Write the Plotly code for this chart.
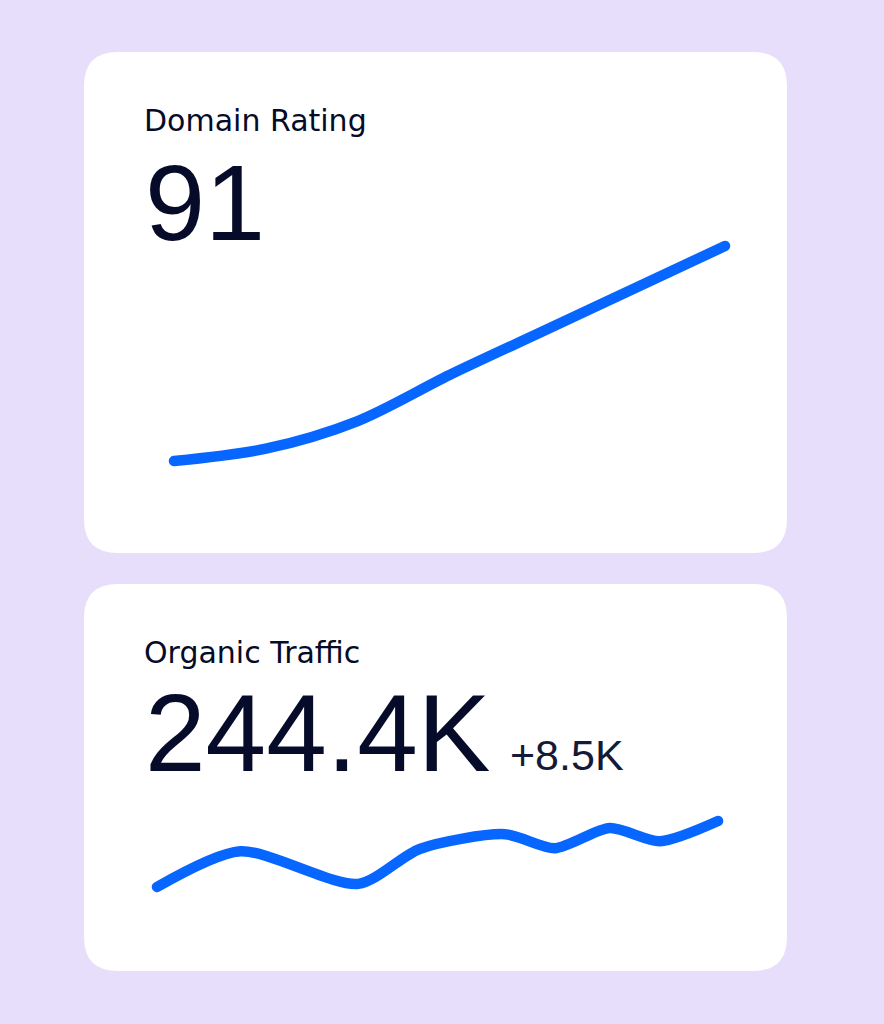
import plotly.graph_objects as go

# ---- data ----
dr_x = [0, 1, 2, 3, 4, 5, 6]
dr_values = [84.0, 84.4, 85.3, 86.8, 88.2, 89.6, 91.0]

ot_x = [0, 12.6, 30.5, 39.8, 52.7, 60.3, 68.6, 76.2, 85]
ot_values = [235.9, 240.5, 236.3, 240.8, 242.7, 240.9, 243.5, 241.8, 244.4]

dr_title = "Domain Rating"
dr_big = "91"
ot_title = "Organic Traffic"
ot_big = "244.4K"
ot_delta = "+8.5K"

W, H = 884, 1024
BG = "#E6DEFA"
BLUE = "#0766FF"
INK = "#050B28"
FONT = "Liberation Sans, Arial, sans-serif"
LABEL_FONT = "DejaVu Sans, sans-serif"
PAD = 12  # px of room around each sparkline so the round caps are not clipped


def px(x):
    return x / W


def py(y):
    return 1 - y / H


def padded_x(vals, p0, p1):
    lo, hi = min(vals), max(vals)
    u = (hi - lo) / (p1 - p0)
    return dict(domain=[px(p0 - PAD), px(p1 + PAD)], range=[lo - PAD * u, hi + PAD * u])


def padded_y(vals, p_low, p_high):
    lo, hi = min(vals), max(vals)
    u = (hi - lo) / (p_low - p_high)
    return dict(domain=[py(p_low + PAD), py(p_high - PAD)], range=[lo - PAD * u, hi + PAD * u])


def rounded_rect(x0, y0, x1, y1, r):
    pts = [
        f"M {px(x0 + r)},{py(y0)}",
        f"L {px(x1 - r)},{py(y0)}",
        f"Q {px(x1)},{py(y0)} {px(x1)},{py(y0 + r)}",
        f"L {px(x1)},{py(y1 - r)}",
        f"Q {px(x1)},{py(y1)} {px(x1 - r)},{py(y1)}",
        f"L {px(x0 + r)},{py(y1)}",
        f"Q {px(x0)},{py(y1)} {px(x0)},{py(y1 - r)}",
        f"L {px(x0)},{py(y0 + r)}",
        f"Q {px(x0)},{py(y0)} {px(x0 + r)},{py(y0)}",
        "Z",
    ]
    return " ".join(pts)


fig = go.Figure()

line_w = 10.5
for xs, ys, xa, ya, sm in [(dr_x, dr_values, "x", "y", 0.9), (ot_x, ot_values, "x2", "y2", 0.75)]:
    fig.add_trace(go.Scatter(
        x=xs, y=ys, mode="lines", xaxis=xa, yaxis=ya,
        line=dict(color=BLUE, width=line_w, shape="spline", smoothing=sm),
        hoverinfo="skip", showlegend=False,
    ))

axis_common = dict(visible=False, showgrid=False, zeroline=False, fixedrange=True)

fig.update_layout(
    width=W, height=H,
    margin=dict(l=0, r=0, t=0, b=0),
    paper_bgcolor=BG, plot_bgcolor="rgba(0,0,0,0)",
    xaxis=dict(anchor="y", **padded_x(dr_x, 174, 725), **axis_common),
    yaxis=dict(anchor="x", **padded_y(dr_values, 461, 246), **axis_common),
    xaxis2=dict(anchor="y2", **padded_x(ot_x, 157, 718), **axis_common),
    yaxis2=dict(anchor="x2", **padded_y(ot_values, 887, 821), **axis_common),
    shapes=[
        dict(type="path", xref="paper", yref="paper", path=rounded_rect(84, 52, 787, 553, 34),
             fillcolor="white", line=dict(width=0), layer="below"),
        dict(type="path", xref="paper", yref="paper", path=rounded_rect(84, 584, 787, 971, 34),
             fillcolor="white", line=dict(width=0), layer="below"),
    ],
)


def add_text(text, x, y, size, color=INK, family=FONT):
    fig.add_annotation(
        text=text, x=px(x), y=py(y), xref="paper", yref="paper",
        xanchor="left", yanchor="middle", showarrow=False,
        font=dict(family=family, size=size, color=color),
    )


add_text(dr_title, 142, 120, 30, family=LABEL_FONT)
add_text(dr_big, 143, 202, 108)
add_text(ot_title, 142, 652, 30, family=LABEL_FONT)
add_text(ot_big, 143, 733, 109)
add_text(ot_delta, 508, 755, 43, "#141B38")

fig.write_html(
    "out.html",
    config={"displayModeBar": False, "staticPlot": True},
    post_script=(
        "document.body.style.margin='0';document.body.style.overflow='hidden';"
        "document.querySelectorAll('.js-line').forEach(function(p){"
        "p.style.strokeLinecap='round';p.style.strokeLinejoin='round';});"
    ),
)
